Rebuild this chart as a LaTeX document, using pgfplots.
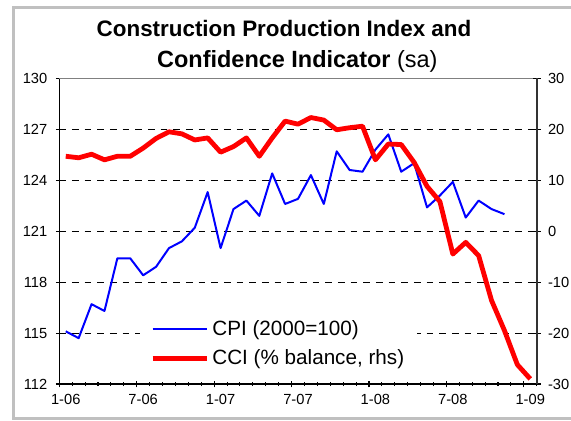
\documentclass[border=0pt]{standalone}
\usepackage{fontspec}
\setmainfont{Liberation Sans}
\usepackage{pgfplots}
\pgfplotsset{compat=1.18}
\usepackage{pgfplotstable}

\pgfplotstableread{
x y
0 115.1
1 114.7
2 116.7
3 116.3
4 119.4
5 119.4
6 118.4
7 118.9
8 120.0
9 120.4
10 121.2
11 123.3
12 120.0
13 122.3
14 122.8
15 121.9
16 124.4
17 122.6
18 122.9
19 124.3
20 122.6
21 125.7
22 124.6
23 124.5
24 125.8
25 126.7
26 124.5
27 125.0
28 122.4
29 123.1
30 123.9
31 121.8
32 122.8
33 122.3
34 122.0
}\cpi

\pgfplotstableread{
x y
0 14.7
1 14.4
2 15.1
3 14.0
4 14.7
5 14.7
6 16.3
7 18.2
8 19.5
9 19.1
10 17.9
11 18.3
12 15.5
13 16.6
14 18.3
15 14.7
16 18.3
17 21.6
18 21.0
19 22.3
20 21.8
21 19.9
22 20.3
23 20.6
24 14.0
25 17.1
26 17.0
27 13.5
28 8.8
29 5.8
30 -4.5
31 -2.2
32 -4.8
33 -13.6
34 -19.5
35 -26.2
36 -29.0
}\cci

\definecolor{framegray}{RGB}{192,192,192}
\definecolor{topgray}{RGB}{128,128,128}

\begin{document}
\begin{tikzpicture}
\useasboundingbox (0,0) rectangle (428.25pt,315.75pt);
% outer frame
\draw[framegray, line width=2.25pt] (432pt,309.75pt) -- (10.125pt,309.75pt) -- (10.125pt,1.875pt) -- (432pt,1.875pt);
% title
\node[anchor=base, inner sep=0pt, font=\fontsize{16.8}{20}\selectfont\bfseries] at (213pt,288.2pt) {Construction Production Index and};
\node[anchor=base, inner sep=0pt, font=\fontsize{17.6}{20}\selectfont] at (223pt,265pt) {\textbf{Confidence Indicator} (sa)};

\begin{axis}[
  at={(44.475pt,27.75pt)}, anchor=south west,
  scale only axis, width=358.05pt, height=229.275pt,
  xmin=-0.5, xmax=36.5, ymin=112, ymax=130,
  axis x line*=bottom, axis y line*=left,
  axis line style={-, black, line width=0.8pt},
  ytick={112,115,118,121,124,127,130},
  yticklabels={112,115,118,121,124,127,130},
  xtick={-0.5,5.5,11.5,17.5,23.5,29.5,35.5},
  xticklabels={},
  minor xtick={-0.5,0.5,...,36.5},
  extra x ticks={0,6,12,18,24,30,36},
  extra x tick labels={1-06,7-06,1-07,7-07,1-08,7-08,1-09},
  extra x tick style={tick style={draw=none}, grid=none},
  extra y ticks={115,118,121,124,127},
  extra y tick labels={},
  extra y tick style={grid=major, tick style={draw=none}},
  major grid style={black, dash pattern=on 5pt off 4.5pt, line width=0.75pt},
  tick style={black, line width=0.8pt},
  major tick length=5pt, minor tick length=3pt,
  tick align=center,
  ticklabel style={font=\fontsize{11}{12}\selectfont},
  xticklabel style={yshift=-2pt},
  yticklabel style={xshift=-3pt},
  clip=false,
]
\addplot[blue, line width=1.5pt, line join=round] table[x=x,y=y] {\cpi};
\draw[topgray, line width=0.8pt] (rel axis cs:0,1) -- (rel axis cs:1,1);
\end{axis}

\begin{axis}[
  at={(44.475pt,27.75pt)}, anchor=south west,
  scale only axis, width=358.05pt, height=229.275pt,
  xmin=-0.5, xmax=36.5, ymin=-30, ymax=30,
  axis y line*=right, axis x line=none,
  axis line style={-, black!80, line width=1.2pt},
  ytick={-30,-20,-10,0,10,20,30},
  yticklabels={-30,-20,-10,0,10,20,30},
  tick style={black, line width=0.8pt},
  major tick length=6pt, tick align=center,
  ticklabel style={font=\fontsize{11}{12}\selectfont},
  yticklabel style={xshift=2pt},
  clip=false,
  legend style={at={(0.169,0.131)}, anchor=west, draw=none, fill=white,
    font=\fontsize{15.5}{18}\selectfont, inner xsep=7.5pt, inner ysep=2pt,
    row sep=5pt},
  legend cell align=left,
  legend image code/.code={\draw[#1] (0pt,0pt) -- (41pt,0pt);},
]
\addlegendimage{blue, line width=1.5pt}
\addlegendentry{CPI (2000=100)}
\addplot[red, line width=3.6pt, line join=round] table[x=x,y=y] {\cci};
\addlegendentry{CCI (\% balance, rhs)}
\end{axis}
\end{tikzpicture}
\end{document}
